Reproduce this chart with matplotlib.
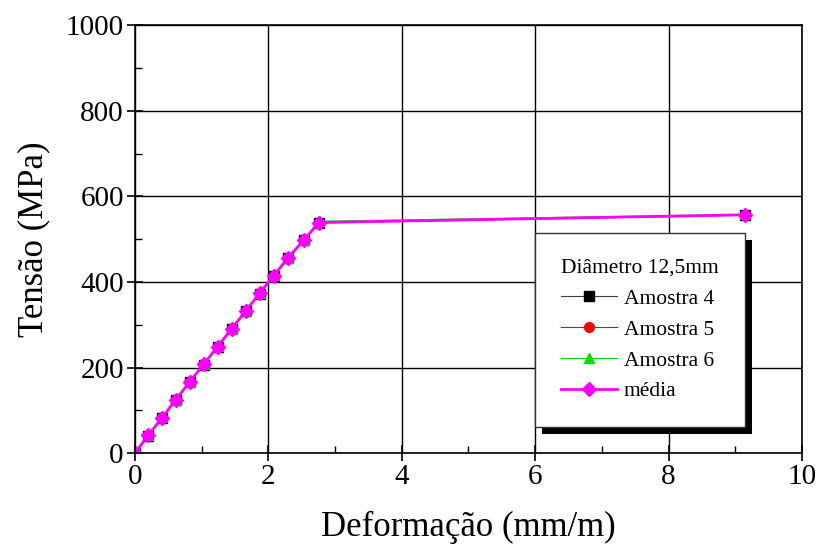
import matplotlib
matplotlib.use("Agg")
import matplotlib.pyplot as plt
from matplotlib.patches import Rectangle
from matplotlib.ticker import MultipleLocator

# strain (mm/m) and stress (MPa)
deform = [0.0, 0.2, 0.41, 0.61, 0.82, 1.03, 1.24, 1.45, 1.66, 1.87, 2.08, 2.30, 2.53, 2.76, 9.15]
amostra4 = [0, 41, 83, 124, 166, 207, 249, 290, 332, 373, 415, 456, 498, 538, 556]
amostra5 = [0, 42, 83, 125, 166, 208, 249, 291, 332, 374, 415, 457, 498, 539, 557]
amostra6 = [0, 42, 84, 125, 167, 208, 250, 291, 333, 374, 416, 457, 499, 542, 558]
media = [0, 42, 83, 125, 166, 208, 249, 291, 332, 374, 415, 457, 498, 539, 557]

plt.rcParams["font.family"] = ["Liberation Serif", "DejaVu Serif"]

fig = plt.figure(figsize=(8.23, 5.48), dpi=100)
ax = fig.add_axes([0.164, 0.173, 0.8105, 0.781])

ax.plot(deform, amostra4, color="#404040", lw=0.8, marker="s", ms=7, mfc="black", mec="black", label="Amostra 4")
ax.plot(deform, amostra5, color="red", lw=0.8, marker="o", ms=7, mfc="red", mec="red", label="Amostra 5")
ax.plot(deform, amostra6, color="#00dd00", lw=0.8, marker="^", ms=7, mfc="#00dd00", mec="#00dd00", label="Amostra 6")
ax.plot(deform, media, color="magenta", lw=2, marker="D", ms=7, mfc="magenta", mec="magenta", label="média")

ax.set_xlim(0, 10)
ax.set_ylim(0, 1000)
ax.xaxis.set_major_locator(MultipleLocator(2))
ax.xaxis.set_minor_locator(MultipleLocator(1))
ax.yaxis.set_major_locator(MultipleLocator(200))
ax.yaxis.set_minor_locator(MultipleLocator(100))
ax.grid(True, which="major", color="black", lw=1)
ax.tick_params(which="major", direction="inout", length=12, width=1.2, labelsize=21, pad=2)
ax.tick_params(which="minor", direction="in", length=5, width=1)
for s in ax.spines.values():
    s.set_linewidth(1.2)

ax.set_xlabel("Deformação (mm/m)", fontsize=25, labelpad=15)
ax.set_ylabel("Tensão (MPa)", fontsize=25, labelpad=11)

leg = ax.legend(title="Diâmetro 12,5mm", loc="upper left", bbox_to_anchor=(0.6004, 0.514), fontsize=15.5,
                title_fontsize=15.5, alignment="left", frameon=True, fancybox=False, edgecolor="#333333",
                framealpha=1, numpoints=1, handlelength=2.6, borderpad=1.2, labelspacing=0.5,
                handletextpad=0.3, borderaxespad=0)
leg.get_frame().set_linewidth(1)
leg.set_zorder(5)

fig.canvas.draw()
bb = leg.get_window_extent()
shadow = Rectangle((bb.x0 + 7, bb.y0 - 7), bb.width, bb.height, transform=None,
                   facecolor="black", edgecolor="none", zorder=4, clip_on=False)
ax.add_artist(shadow)

fig.savefig("out.png", dpi=100)
